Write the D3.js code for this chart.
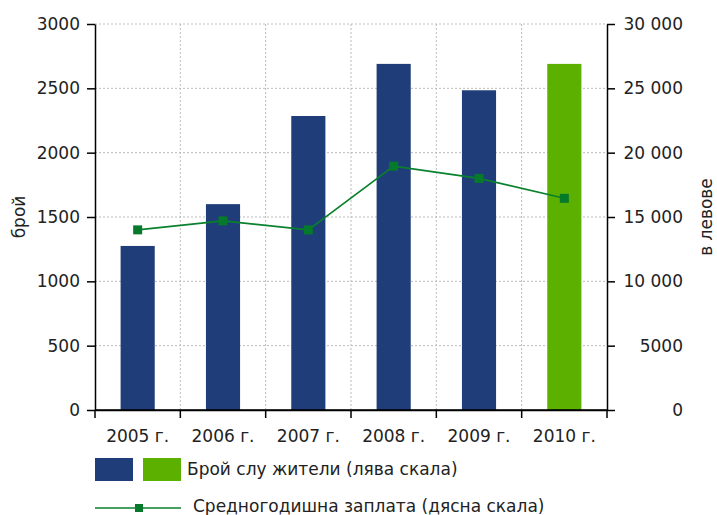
<!DOCTYPE html>
<html>
<head>
<meta charset="utf-8">
<script src="https://cdn.jsdelivr.net/npm/d3@7"></script>
<style>
  body { margin: 0; background: #fff; }
  svg text { font-family: "DejaVu Sans", sans-serif; fill: #222; }
</style>
</head>
<body>
<div id="chart"></div>
<script>
const years = ["2005 г.", "2006 г.", "2007 г.", "2008 г.", "2009 г.", "2010 г."];
const residents = [1275, 1600, 2285, 2690, 2485, 2690];
const salary = [14000, 14700, 14000, 18950, 18000, 16450];
const leftTicks = [0, 500, 1000, 1500, 2000, 2500, 3000];
const rightTicks = [0, 5000, 10000, 15000, 20000, 25000, 30000];
const rightTickLabels = ["0", "5000", "10 000", "15 000", "20 000", "25 000", "30 000"];

const width = 717, height = 515;
const margin = { top: 24, right: 110, bottom: 105, left: 95 };
const blue = "#1f3e79", green = "#5cb000", lineGreen = "#08802c";

const svg = d3.select("#chart").append("svg")
  .attr("width", width)
  .attr("height", height);

const x = d3.scaleBand()
  .domain(years)
  .range([margin.left, width - margin.right])
  .padding(0);

const yLeft = d3.scaleLinear()
  .domain([0, 3000])
  .range([height - margin.bottom, margin.top]);

const yRight = d3.scaleLinear()
  .domain([0, 30000])
  .range([height - margin.bottom, margin.top]);

const x0 = margin.left, x1 = width - margin.right;
const yBottom = height - margin.bottom;

// grid
svg.append("g")
  .selectAll("line")
  .data(leftTicks.filter(d => d > 0))
  .join("line")
  .attr("x1", x0).attr("x2", x1)
  .attr("y1", d => yLeft(d)).attr("y2", d => yLeft(d))
  .attr("stroke", "#bbb")
  .attr("stroke-dasharray", "2,2");

svg.append("g")
  .selectAll("line")
  .data(years.slice(1))
  .join("line")
  .attr("x1", d => x(d)).attr("x2", d => x(d))
  .attr("y1", margin.top).attr("y2", yBottom)
  .attr("stroke", "#bbb")
  .attr("stroke-dasharray", "2,2");

// bars
const barW = x.bandwidth() * 0.4;
svg.append("g")
  .selectAll("rect")
  .data(years.map((y, i) => ({ year: y, value: residents[i], last: i === years.length - 1 })))
  .join("rect")
  .attr("x", d => x(d.year) + (x.bandwidth() - barW) / 2)
  .attr("y", d => yLeft(d.value))
  .attr("width", barW)
  .attr("height", d => yLeft(0) - yLeft(d.value))
  .attr("fill", d => d.last ? green : blue);

// line
const pts = years.map((y, i) => ({ year: y, value: salary[i] }));
svg.append("path")
  .datum(pts)
  .attr("fill", "none")
  .attr("stroke", lineGreen)
  .attr("stroke-width", 1.6)
  .attr("d", d3.line()
    .x(d => x(d.year) + x.bandwidth() / 2)
    .y(d => yRight(d.value)));

svg.append("g")
  .selectAll("rect")
  .data(pts)
  .join("rect")
  .attr("x", d => x(d.year) + x.bandwidth() / 2 - 4.5)
  .attr("y", d => yRight(d.value) - 4.5)
  .attr("width", 9)
  .attr("height", 9)
  .attr("fill", "#067a2a");

// axes
const leftAxis = svg.append("g")
  .attr("transform", `translate(${x0},0)`)
  .call(d3.axisLeft(yLeft).tickValues(leftTicks).tickSize(8).tickPadding(7).tickSizeOuter(0)
    .tickFormat(d3.format("d")));

const rightAxis = svg.append("g")
  .attr("transform", `translate(${x1},0)`)
  .call(d3.axisRight(yRight).tickValues(rightTicks).tickSize(8).tickSizeOuter(0)
    .tickFormat((d, i) => rightTickLabels[i]));
rightAxis.selectAll("text")
  .attr("x", 76)
  .attr("text-anchor", "end");

const bottomAxis = svg.append("g")
  .attr("transform", `translate(0,${yBottom})`)
  .call(d3.axisBottom(x).tickSize(0).tickPadding(20));

// ticks at band boundaries
svg.append("g")
  .selectAll("line")
  .data(years.map(d => x(d)).concat([x1]))
  .join("line")
  .attr("x1", d => d).attr("x2", d => d)
  .attr("y1", yBottom).attr("y2", yBottom + 8)
  .attr("stroke", "#000")
  .attr("stroke-width", 1.5);

svg.append("line")
  .attr("x1", x0).attr("x2", x1)
  .attr("y1", yBottom).attr("y2", yBottom)
  .attr("stroke", "#000")
  .attr("stroke-width", 1.5);

[leftAxis, rightAxis, bottomAxis].forEach(a => {
  a.selectAll("path").attr("stroke", "#000").attr("stroke-width", 1.5);
  a.selectAll("line").attr("stroke", "#000").attr("stroke-width", 1.5);
  a.selectAll("text").style("font-size", "17px").attr("fill", "#222");
});

// axis titles
svg.append("text")
  .attr("transform", `translate(20,${(margin.top + yBottom) / 2}) rotate(-90)`)
  .attr("text-anchor", "middle")
  .attr("dominant-baseline", "middle")
  .style("font-size", "17px")
  .text("брой");

svg.append("text")
  .attr("transform", `translate(707,${(margin.top + yBottom) / 2}) rotate(-90)`)
  .attr("text-anchor", "middle")
  .attr("dominant-baseline", "middle")
  .style("font-size", "17px")
  .text("в левове");

// legend
const legend = svg.append("g");
legend.append("rect").attr("x", 95).attr("y", 458).attr("width", 38).attr("height", 23).attr("fill", blue);
legend.append("rect").attr("x", 143).attr("y", 458).attr("width", 38).attr("height", 23).attr("fill", green);
legend.append("text")
  .attr("x", 187).attr("y", 470)
  .attr("dominant-baseline", "middle")
  .style("font-size", "17px")
  .text("Брой слу жители (лява скала)");

legend.append("line")
  .attr("x1", 95).attr("x2", 181)
  .attr("y1", 508).attr("y2", 508)
  .attr("stroke", lineGreen)
  .attr("stroke-width", 1.6);
legend.append("rect")
  .attr("x", 135).attr("y", 504).attr("width", 8).attr("height", 8)
  .attr("fill", "#067a2a");
legend.append("text")
  .attr("x", 193).attr("y", 507)
  .attr("dominant-baseline", "middle")
  .style("font-size", "17px")
  .text("Средногодишна заплата (дясна скала)");
</script>
</body>
</html>
